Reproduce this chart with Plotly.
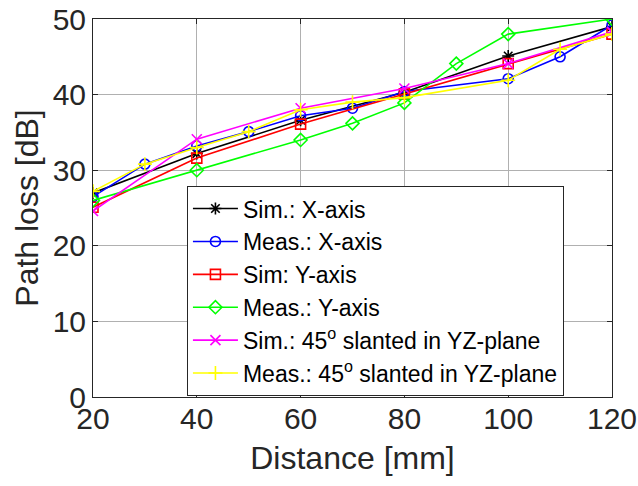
import plotly.graph_objects as go

# Data
x_sim = [20, 40, 60, 80, 100, 120]
sim_x_axis = [27.0, 32.2, 36.6, 40.3, 45.1, 49.0]
sim_y_axis = [25.1, 31.6, 36.1, 40.1, 44.1, 48.0]
sim_45 = [24.6, 34.1, 38.2, 40.8, 44.1, 48.3]

x_meas_x = [20, 30, 40, 50, 60, 70, 80, 100, 110, 120]
meas_x_axis = [26.5, 30.8, 33.2, 35.1, 37.2, 38.2, 40.4, 42.1, 45.0, 49.2]

x_meas_y = [20, 40, 60, 70, 80, 90, 100, 120]
meas_y_axis = [26.0, 30.0, 34.0, 36.2, 38.9, 44.1, 48.0, 50.0]

x_meas_45 = [20, 30, 40, 50, 60, 70, 80, 100, 110, 120]
meas_45 = [27.2, 30.8, 33.0, 35.1, 38.0, 39.0, 39.6, 41.9, 46.0, 48.0]

x_ticks = [20, 40, 60, 80, 100, 120]
y_ticks = [0, 10, 20, 30, 40, 50]

series = [
    ("Sim.: X-axis", x_sim, sim_x_axis, "black", "asterisk-open"),
    ("Meas.: X-axis", x_meas_x, meas_x_axis, "#0000FF", "circle-open"),
    ("Sim: Y-axis", x_sim, sim_y_axis, "#FF0000", "square-open"),
    ("Meas.: Y-axis", x_meas_y, meas_y_axis, "#00FF00", "diamond-open"),
    ("Sim.: 45<sup>o</sup> slanted in YZ-plane", x_sim, sim_45, "#FF00FF", "x-thin-open"),
    ("Meas.: 45<sup>o</sup> slanted in YZ-plane", x_meas_45, meas_45, "#FFFF00", "cross-thin-open"),
]

fig = go.Figure()
for name, xs, ys, col, sym in series:
    fig.add_trace(go.Scatter(
        x=xs, y=ys, name=name, mode="lines+markers",
        line=dict(color=col, width=1.6),
        marker=dict(symbol=sym, size=10, color=col, line=dict(color=col, width=1.6)),
    ))

font_family = "Liberation Sans, Arial, sans-serif"
axis_common = dict(
    showgrid=True, gridcolor="#b0b0b0", gridwidth=1,
    showline=True, linecolor="#262626", linewidth=1, mirror="ticks",
    ticks="inside", ticklen=5, tickcolor="#262626",
    tickfont=dict(size=30, color="#262626", family=font_family),
    zeroline=False, automargin=False,
)

fig.update_layout(
    width=638, height=486,
    margin=dict(l=93, r=26, t=19, b=89),
    paper_bgcolor="white", plot_bgcolor="white",
    font=dict(family=font_family, color="#262626"),
    showlegend=True,
    legend=dict(
        x=0.181, y=0.558, xanchor="left", yanchor="top",
        bgcolor="white", bordercolor="#262626", borderwidth=1,
        font=dict(size=23, color="black", family=font_family),
        itemwidth=45, tracegroupgap=0,
    ),
)
fig.update_xaxes(range=[20, 120], tickvals=x_ticks, ticklabelstandoff=-5,
                 title=dict(text="Distance [mm]", font=dict(size=32, color="#262626"), standoff=12),
                 **axis_common)
fig.update_yaxes(range=[0, 50], tickvals=y_ticks,
                 title=dict(text="Path loss [dB]", font=dict(size=32, color="#262626"), standoff=4),
                 **axis_common)

fig.write_html("out.html", post_script="document.body.style.margin='0';",
               config={"displayModeBar": False})
